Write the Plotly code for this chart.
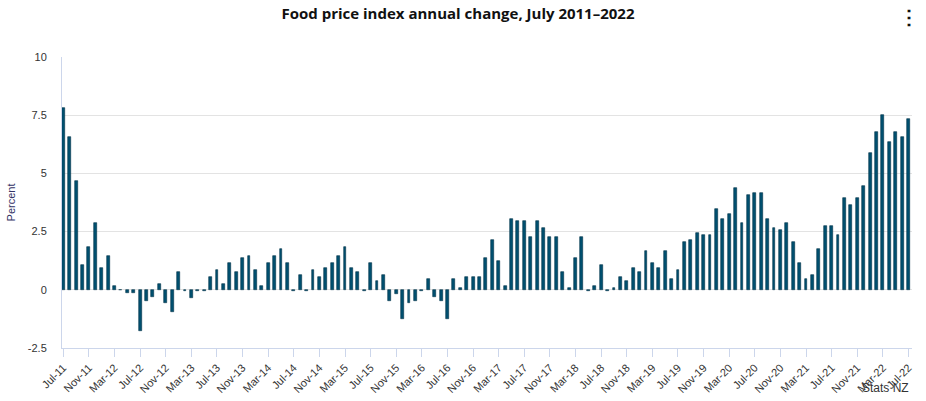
import plotly.graph_objects as go

months = ["Jul", "Aug", "Sep", "Oct", "Nov", "Dec", "Jan", "Feb", "Mar", "Apr", "May", "Jun"]
start_year = 11
n_months = 133
categories = []
for i in range(n_months):
    m = months[i % 12]
    yr = start_year + (i + 6) // 12
    categories.append(f"{m}-{yr:02d}")

values = [
    7.83, 6.55, 4.66, 1.07, 1.84, 2.87, 0.94, 1.46, 0.17, 0.0, -0.14, -0.14,
    -1.78, -0.46, -0.29, 0.26, -0.58, -0.97, 0.78, -0.05, -0.37, -0.05, -0.05, 0.56,
    0.86, 0.26, 1.17, 0.78, 1.37, 1.46, 0.86, 0.17, 1.17, 1.46, 1.75, 1.17,
    -0.05, 0.64, -0.04, 0.86, 0.56, 0.94, 1.17, 1.46, 1.84, 0.94, 0.78, -0.05,
    1.17, 0.39, 0.64, -0.46, -0.16, -1.27, -0.58, -0.46, -0.05, 0.47, -0.29, -0.46,
    -1.27, 0.47, 0.09, 0.56, 0.56, 0.56, 1.37, 2.14, 1.24, 0.17, 3.04, 2.95,
    2.95, 2.27, 2.95, 2.65, 2.27, 2.27, 0.78, 0.09, 1.37, 2.27, -0.05, 0.17,
    1.07, -0.05, 0.09, 0.56, 0.39, 0.94, 0.78, 1.67, 1.17, 0.94, 1.67, 0.47,
    0.86, 2.05, 2.14, 2.44, 2.35, 2.35, 3.47, 3.04, 3.25, 4.37, 2.87, 4.07,
    4.15, 4.15, 3.04, 2.65, 2.57, 2.87, 2.05, 1.16, 0.47, 0.64, 1.75, 2.74,
    2.74, 2.35, 3.94, 3.64, 3.94, 4.45, 5.86, 6.76, 7.53, 6.33, 6.76, 6.55,
    7.32,
]

tick_every = 4
tick_labels = categories[::tick_every]
y_ticks = [-2.5, 0, 2.5, 5, 7.5, 10]
y_tick_text = ["-2.5", "0", "2.5", "5", "7.5", "10"]

x_idx = list(range(len(values)))

L, R, T, B = 62, 14, 57, 53
W, H = 926, 401

fig = go.Figure()
fig.add_trace(go.Bar(
    x=x_idx,
    y=values,
    width=0.45,
    marker=dict(color="#00506f", line=dict(color="#003247", width=0.6)),
    hovertext=categories,
    hovertemplate="%{hovertext}: %{y}%<extra></extra>",
))

plot_w = W - L - R
plot_h = H - T - B
def px_to_paper(px, py):
    return (px - L) / plot_w, (H - B - py) / plot_h

sx, sy = px_to_paper(911, 397)
mx, my = px_to_paper(909, 17)

fig.update_layout(
    width=W,
    height=H,
    margin=dict(l=L, r=R, t=T, b=B, autoexpand=False),
    paper_bgcolor="white",
    plot_bgcolor="white",
    showlegend=False,
    bargap=0,
    font=dict(family="Arial, Liberation Sans, sans-serif", color="#333333"),
    title=dict(
        text="<b>Food price index annual change, July 2011\u20132022</b>",
        x=458 / W, xanchor="center", xref="container", y=1 - 14 / H, yanchor="middle",
        font=dict(family="Open Sans, Arial, sans-serif", size=15, color="#111111"),
    ),
    xaxis=dict(
        range=[-0.2, 132.55],
        tickmode="array",
        tickvals=x_idx[::tick_every],
        ticktext=tick_labels,
        tickangle=-45,
        tickfont=dict(size=11, color="#333333"),
        ticks="outside",
        ticklen=8,
        tickcolor="#ccd6eb",
        showline=True,
        linecolor="#ccd6eb",
        linewidth=1,
        showgrid=False,
        zeroline=False,
        automargin=False,
    ),
    yaxis=dict(
        range=[-2.5, 10],
        tickmode="array",
        tickvals=y_ticks,
        ticktext=y_tick_text,
        tickfont=dict(size=11, color="#333333"),
        showgrid=True,
        gridcolor="#e3e3e3",
        gridwidth=1,
        zeroline=False,
        showline=True,
        linecolor="#ccd6eb",
        linewidth=1,
        ticks="",
        ticklabelstandoff=12,
        automargin=False,
        title=dict(text="Percent", font=dict(size=11, color="#333366"), standoff=9),
    ),
    annotations=[
        dict(text="Stats NZ", x=sx, xref="paper", xanchor="right",
             y=sy, yref="paper", yanchor="bottom",
             showarrow=False, font=dict(size=12, color="#333333")),
        dict(text="<b>\u22ee</b>", x=mx, xref="paper", y=my, yref="paper",
             xanchor="center", yanchor="middle",
             showarrow=False, font=dict(size=20, color="#111111")),
    ],
)

fig.write_html(
    "out.html",
    config={"displayModeBar": False},
    post_script="document.body.style.margin='0';document.body.style.padding='0';",
)
